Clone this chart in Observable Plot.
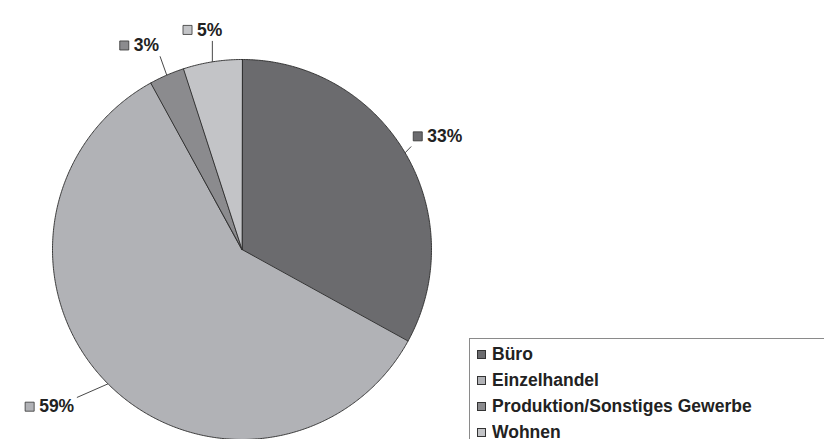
<!DOCTYPE html>
<html>
<head>
<meta charset="utf-8">
<script src="https://cdn.jsdelivr.net/npm/d3@7"></script>
<script src="https://cdn.jsdelivr.net/npm/@observablehq/plot@0.6"></script>
<style>
  html, body { margin: 0; padding: 0; background: #fff; overflow: hidden; }
  #wrap { position: relative; width: 824px; height: 439px; }
  #legend {
    position: absolute; left: 469px; top: 338px; width: 420px; height: 130px;
    border: 1px solid #8a8a8a; box-sizing: border-box; padding: 2px 0 0 7px; background: #fff;
  }
  #legend .lg-swatch { height: 26px; margin: 0; padding: 0; display: flex; align-items: center; }
  #legend .lg-swatch svg { border: 1px solid #333; box-sizing: border-box; margin-right: 6px; flex-shrink: 0; }
</style>
</head>
<body>
<div id="wrap"><div id="chart"></div><div id="legend"></div></div>
<script>
// ---- data ----
const categories = ["Büro", "Einzelhandel", "Produktion/Sonstiges Gewerbe", "Wohnen"];
const shares = [33, 59, 3, 5];
const palette = ["#6b6b6e", "#b1b2b6", "#8b8b8e", "#c3c4c7"];

const rows = categories.map((category, i) => ({category, share: shares[i]}));
const arcs = d3.pie().sort(null).value(d => d.share)(rows);

// polygon outline points for each slice (sampled along the arc)
const poly = [];
for (const a of arcs) {
  const cat = a.data.category;
  poly.push({category: cat, x: 0, y: 0});
  const n = Math.max(2, Math.ceil((a.endAngle - a.startAngle) / (Math.PI / 360)));
  for (let j = 0; j <= n; j++) {
    const t = a.startAngle + (a.endAngle - a.startAngle) * j / n;
    poly.push({category: cat, x: Math.sin(t), y: Math.cos(t)});
  }
}

const FS = 17.5;
const fontFamily = "'Liberation Sans', Arial, sans-serif";
const ctx = document.createElement("canvas").getContext("2d");
ctx.font = `bold ${FS}px ${fontFamily}`;

const PX = 190;            // approx. pixels per data unit (pie radius)
const SQ = 9, GAP = 5, HH = 8;
const labels = arcs.map(a => {
  const mid = (a.startAngle + a.endAngle) / 2;
  const s = Math.sin(mid), c = Math.cos(mid);
  const text = d3.format(".0f")(a.data.share) + "%";
  const w = SQ + GAP + ctx.measureText(text).width;
  const kx = 1.2 - 0.15 * s, ky = 1.17;
  const ax = kx * s, ay = ky * c;
  const lx = -w * (1 - s) / 2;              // pixel offset of label's left edge
  // label box in data units
  const left = ax + lx / PX, right = left + w / PX;
  const top = ay + HH / PX, bottom = ay - HH / PX;
  // leader: arc point -> nearest point of label box (pulled back slightly)
  let ex = Math.min(Math.max(s, left), right);
  let ey = Math.min(Math.max(c, bottom), top);
  const dxl = s - ex, dyl = c - ey, len = Math.hypot(dxl, dyl);
  const back = 3 / PX;
  ex += dxl / len * back; ey += dyl / len * back;
  return {category: a.data.category, text, ax, ay, lx, x1: s, y1: c, x2: ex, y2: ey};
});

const color = {domain: categories, range: palette};

const chart = Plot.plot({
  width: 824, height: 439,
  marginLeft: 52, marginRight: 393, marginTop: 59, marginBottom: 0,
  x: {domain: [-1, 1], axis: null},
  y: {domain: [-1, 1], axis: null},
  color,
  style: {background: "#fff", overflow: "visible"},
  marks: [
    Plot.line(poly, {x: "x", y: "y", z: "category", fill: "category", stroke: "#2a2a2a", strokeWidth: 0.9, curve: "linear-closed"}),
    Plot.link(labels, {x1: "x1", y1: "y1", x2: "x2", y2: "y2", stroke: "#333", strokeWidth: 0.9}),
    ...labels.map(l => Plot.dot([l], {x: "ax", y: "ay", dx: l.lx + SQ / 2, symbol: "square", r: 5.1, fill: "category", stroke: "#333", strokeWidth: 0.8})),
    ...labels.map(l => Plot.text([l], {x: "ax", y: "ay", dx: l.lx + SQ + GAP, text: "text", textAnchor: "start", fontSize: FS, fontWeight: "bold", fill: "#222", fontFamily}))
  ]
});
document.getElementById("chart").append(chart);

const legend = Plot.legend({
  color, legend: "swatches", columns: 1, swatchSize: 9, className: "lg",
  style: {fontFamily, fontSize: FS + "px", fontWeight: "bold", color: "#222", margin: 0}
});
document.getElementById("legend").append(legend);
</script>
</body>
</html>
